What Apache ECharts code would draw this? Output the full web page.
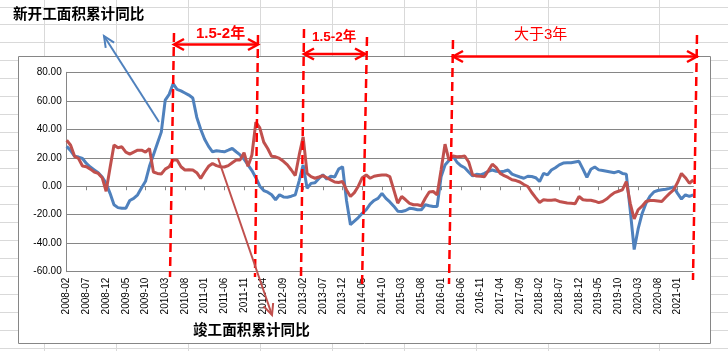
<!DOCTYPE html>
<html><head><meta charset="utf-8">
<script src="https://cdn.jsdelivr.net/npm/echarts@6/dist/echarts.min.js"></script>
<style>html,body{margin:0;padding:0;background:#fff}#c{width:728px;height:351px}</style>
</head><body><div id="c"></div>
<script>
// Monthly categories 2008-02 .. 2021-05
const startYear = 2008, startMonth = 2, monthCount = 160;
const categories = [];
for (let k = 0; k < monthCount; k++) {
  const m = startMonth - 1 + k;
  const y = startYear + Math.floor(m / 12);
  const mm = (m % 12) + 1;
  categories.push(y + '-' + (mm < 10 ? '0' + mm : '' + mm));
}
// 新开工面积累计同比 (%)
const newStartYoY = [
  28, 25, 21, 20.5, 19.5, 16, 13.5, 11.5, 9.5, 6.5,
  2, -5, -13, -15, -15.5, -15.5, -10, -8.5, -6, -1,
  3.5, 14, 22, 30, 38, 60.5, 64.5, 72, 68, 67,
  65.5, 64, 62, 48.5, 40, 33, 28, 24.2, 24.9, 24.5,
  24.2, 25.3, 26.5, 24.2, 22, 19, 15, 11, 6, 0,
  -3, -4.2, -6, -9.5, -6, -7.5, -7.7, -7, -6, 4,
  15, -1.4, 2, 2.5, 5.5, 8, 5, 7, 6.5, 12,
  13.7, -10, -27, -24.5, -22, -19, -16.5, -12.5, -10, -8.5,
  -5, -8.5, -11, -14, -17.5, -17.7, -17, -15.5, -15.8, -16.5,
  -16.5, -13, -13.7, -14.2, -14.2, 6.7, 14.9, 18, 21.2, 17,
  14.5, 13, 10, 7.2, 8.4, 8, 9, 10.5, 11.4, 10.5,
  10.2, 10.5, 11.4, 8.5, 7.5, 6.5, 5.6, 7, 6.8, 6,
  3.3, 9, 8, 11.4, 13, 15, 16.3, 16.5, 16.5, 17,
  17.5, 12, 6.3, 11.9, 13.5, 11.5, 11, 10.5, 10, 9.5,
  10.5, 9, 8.5, -17, -44.4, -30, -19.3, -12, -7, -4,
  -3, -2.4, -2.1, -1.5, -0.5, -5, -9, -6, -7.2, -6
];
// 竣工面积累计同比 (%)
const completedYoY = [
  32.3, 28.8, 21, 19.5, 14.2, 13.7, 12, 10, 9, 6,
  -3.5, 13, 29, 27, 27.7, 24, 22.6, 24, 25.3, 25.3,
  24, 26.5, 10, 9, 8.6, 12, 13.7, 18.4, 18.4, 13.7,
  11.4, 11.5, 11.4, 9.5, 5.5, 10, 14, 16, 14.5, 13.7,
  13.5, 14.5, 16.5, 18.4, 18.5, 23.5, 14, 22, 45, 41,
  31, 26.5, 21, 20.7, 19.5, 17.5, 15, 11.4, 7.5, 22,
  34.7, 9, 6.7, 5.6, 6.5, 7.5, 6, 4.5, 3, 2.6,
  3.3, -2.6, -7.2, -4.5, 0, 6, 7.9, 5.6, 7, 7.5,
  7.9, 7.9, 6.7, -2.6, -11.9, -7.2, -9.5, -12, -13, -13,
  -13.7, -8.4, -4, -3.7, -6, 11.4, 29.5, 18.4, 21.2, 20.7,
  20.8, 21.2, 17, 8, 7.2, 7, 6.7, 11, 15.5, 13,
  9, 7.5, 6.2, 4.5, 4, 3, 1.2, -0.2, -4.4, -8,
  -11.4, -9.5, -9.8, -9.8, -9.5, -10.7, -11.2, -11.7, -12, -12.3,
  -7.2, -9.5, -9.8, -9.8, -10.5, -11.5, -10.7, -9, -6.5, -4.5,
  -3.5, -2.5, 3.3, -12, -23, -16.5, -14, -10.7, -10, -10,
  -10.3, -10.7, -7.7, -5, -2.6, 2.6, 9, 6, 2.1, 4.4
];
const yTicks = { min: -60, max: 80, interval: 20 };

const RED = '#ff0000';
const g = [];
// spreadsheet cell grid
const colX = [44.5, 116.5, 188.5, 260.5, 332.5, 404.5, 476.5, 548.5, 659.5];
colX.forEach(x => g.push({type:'line', z:-20, silent:true, shape:{x1:x,y1:0,x2:x,y2:351}, style:{stroke:'#d9d9d9',lineWidth:1}}));
for (let k = 0; k < 20; k++) {
  const y = Math.round(6.5 + 17.95 * k) + 0.5;
  g.push({type:'line', z:-20, silent:true, shape:{x1:0,y1:y,x2:728,y2:y}, style:{stroke:'#d9d9d9',lineWidth:1}});
}
// chart area
g.push({type:'rect', z:-10, silent:true, shape:{x:18.5,y:56.5,width:692,height:287}, style:{fill:'#fff',stroke:'#868686',lineWidth:1}});

function head(x1,y1,x2,y2,len,spread){
  const dx=x2-x1, dy=y2-y1, L=Math.hypot(dx,dy), ux=dx/L, uy=dy/L;
  const bx=x2-ux*len, by=y2-uy*len, px=-uy*spread, py=ux*spread;
  return [[bx+px,by+py],[x2,y2],[bx-px,by-py]];
}
function arrow(x1,y1,x2,y2,color,w,len,spread,both){
  g.push({type:'line', z:50, silent:true, shape:{x1,y1,x2,y2}, style:{stroke:color,lineWidth:w}});
  g.push({type:'polyline', z:50, silent:true, shape:{points:head(x1,y1,x2,y2,len,spread)}, style:{stroke:color,lineWidth:w,fill:null}});
  if (both) g.push({type:'polyline', z:50, silent:true, shape:{points:head(x2,y2,x1,y1,len,spread)}, style:{stroke:color,lineWidth:w,fill:null}});
}
function dash(x1,y1,x2,y2){
  g.push({type:'line', z:50, silent:true, shape:{x1,y1,x2,y2}, style:{stroke:RED,lineWidth:2.5,lineDash:[9,5]}});
}
function txt(x,y,s,size,color,weight){
  g.push({type:'text', z:60, silent:true, x, y, style:{text:s, fill:color, fontSize:size, fontWeight:weight, fontFamily:'"Liberation Sans","Noto Sans CJK SC",sans-serif', verticalAlign:'middle', align:'left'}});
}
dash(174,33,170,277);
dash(258,35,255,277);
dash(304,29,301,277);
dash(367,37,362,287);
dash(453,40,449,284);
dash(697,35,693,280);
arrow(174,44.5,258,44.5,RED,2.5,10,5.5,true);
arrow(304,54,365,54,RED,2.5,10,5.5,true);
arrow(453,56.5,697,56.5,RED,2.5,10,5.5,true);
txt(196,34,'1.5-2年',15,RED,'bold');
txt(312,37.5,'1.5-2年',13.5,RED,'bold');
txt(514,35,'大于3年',15,RED,'normal');
arrow(159,122,104,36,'#4f81bd',2,11,5,false);
arrow(218,158,272,315,'#c0504d',2,11,5,false);
txt(13,15,'新开工面积累计同比',14.6,'#000','bold');
txt(193,330.5,'竣工面积累计同比',14.6,'#000','bold');

const chart = echarts.init(document.getElementById('c'), null, {renderer:'canvas'});
chart.setOption({
  animation:false,
  backgroundColor:'#fff',
  grid:{left:66.7, right:34.7, top:72.3, bottom:79.3, containLabel:false, outerBoundsMode:'none'},
  xAxis:[{
    type:'category', data:categories, boundaryGap:false, position:'bottom',
    axisLine:{show:false, onZero:false}, axisTick:{show:false}, splitLine:{show:false},
    axisLabel:{interval:4, rotate:90, fontSize:10, color:'#000', margin:6, fontFamily:'"Liberation Sans",Arial,sans-serif'}
  },{
    type:'category', data:categories, boundaryGap:false, position:'bottom',
    axisLine:{show:true, onZero:true, lineStyle:{color:'#868686', width:1}},
    axisTick:{show:true, interval:4, length:4, lineStyle:{color:'#868686'}},
    axisLabel:{show:false}, splitLine:{show:false}
  }],
  yAxis:{
    type:'value', min:yTicks.min, max:yTicks.max, interval:yTicks.interval,
    axisLine:{show:true, lineStyle:{color:'#868686', width:1}},
    axisTick:{show:false},
    splitLine:{show:true, lineStyle:{color:'#868686', width:1}},
    axisLabel:{formatter:v=>v.toFixed(2), fontSize:10, color:'#000', margin:5, fontFamily:'"Liberation Sans",Arial,sans-serif'}
  },
  series:[
    {name:'新开工面积累计同比', type:'line', xAxisIndex:0, data:newStartYoY, symbol:'none', lineStyle:{color:'#4f81bd', width:3}, itemStyle:{color:'#4f81bd'}, z:3},
    {name:'竣工面积累计同比', type:'line', xAxisIndex:0, data:completedYoY, symbol:'none', lineStyle:{color:'#c0504d', width:3}, itemStyle:{color:'#c0504d'}, z:4}
  ],
  graphic:g
});
</script></body></html>
